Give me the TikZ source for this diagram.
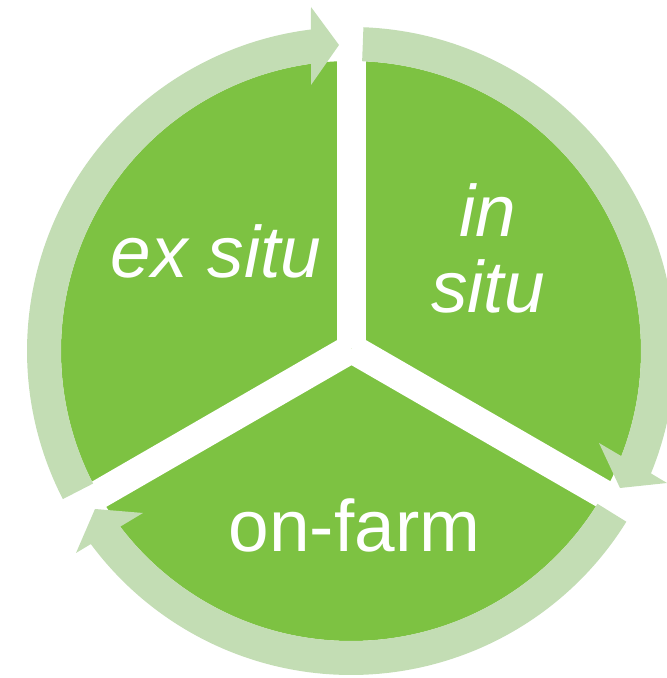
\documentclass[tikz,border=0pt]{standalone}
\usepackage{fontspec}
\setmainfont{Liberation Sans}
\usetikzlibrary{calc}
\definecolor{segGreen}{HTML}{7DC242}
\definecolor{ringGreen}{HTML}{C3DDB4}
\begin{document}
\begin{tikzpicture}[x=1pt,y=1pt,
  seglabel/.style={text=white,inner sep=0pt,font=\fontsize{73}{76}\selectfont},
  gapline/.style={draw=white,line width=29pt},
  ringarrow/.style={fill=ringGreen}]
\useasboundingbox (0,0) rectangle (667,678);
\coordinate (C) at (351,327);
\coordinate (Y) at (351.5,329.5);
% pie
\fill[segGreen] (C) circle[radius=290];
% gaps
\coordinate (G1) at ($(Y)+(90:300)$);
\coordinate (G2) at ($(Y)+(210:300)$);
\coordinate (G3) at ($(Y)+(330:300)$);
\draw[gapline] (Y) -- (G1);
\draw[gapline] (Y) -- (G2);
\draw[gapline] (Y) -- (G3);
% arrows
\fill[ringarrow] ($(C)+(207.2:290)$) -- ($(C)+(207.2:324)$)
  arc[start angle=207.2,end angle=97.1,radius=324]
  -- (311,671) -- (339,633) -- (311,593)
  -- ($(C)+(97.9:290)$) arc[start angle=97.9,end angle=207.2,radius=290] -- cycle;
\fill[ringarrow] ($(C)+(87.8:290)$) -- ($(C)+(87.8:324)$)
  arc[start angle=87.8,end angle=-22.2,radius=324]
  -- (667,195) -- (620,190) -- (599,235)
  -- ($(C)+(-21.25:290)$) arc[start angle=-21.25,end angle=87.8,radius=290] -- cycle;
\fill[ringarrow] ($(C)+(328.2:290)$) -- ($(C)+(328.2:324)$)
  arc[start angle=328.2,end angle=216.58,radius=324]
  -- (76,125) -- (95,169) -- (143,165)
  -- ($(C)+(217.27:290)$) arc[start angle=217.27,end angle=328.2,radius=290] -- cycle;
% labels
\node[seglabel,anchor=base] (exsitu) at (216,400) {\itshape ex situ};
\node[seglabel,anchor=center,align=center] (insitu) at (488,430) {\itshape in\\\itshape situ};
\node[seglabel,anchor=base] (onfarm) at (354.5,126) {on-farm};
\end{tikzpicture}
\end{document}
